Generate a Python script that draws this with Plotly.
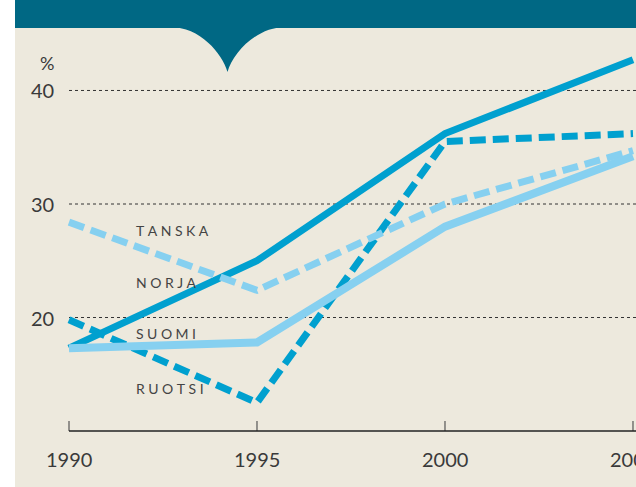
import plotly.graph_objects as go

W, H = 636, 487

years = [1990, 1995, 2000, 2005]
tanska = [28.4, 22.4, 30.0, 34.7]
norja = [17.3, 25.0, 36.2, 42.7]
suomi = [17.3, 17.8, 28.0, 34.2]
ruotsi = [19.8, 12.5, 35.5, 36.2]
y_ticks = [20, 30, 40]
series_labels = ["TANSKA", "NORJA", "SUOMI", "RUOTSI"]

DARK = "#00a0cf"
LIGHT = "#86d0f0"
BEIGE = "#ede9dd"
TEAL = "#006884"
TXT = "#3a3a3a"
FONT = "Lato"


def px(x, y):
  '''pixel -> paper coords'''
  return x / W, 1 - y / H


def spaced(s):
  return "\u2005".join(s)


fig = go.Figure()

fig.add_trace(go.Scatter(x=years, y=norja, mode="lines", line=dict(color=DARK, width=7)))
fig.add_trace(go.Scatter(x=years, y=ruotsi, mode="lines", line=dict(color=DARK, width=7, dash="16px,7px")))
fig.add_trace(go.Scatter(x=years, y=tanska, mode="lines", line=dict(color=LIGHT, width=7, dash="16px,7px")))
fig.add_trace(go.Scatter(x=years, y=suomi, mode="lines", line=dict(color=LIGHT, width=8)))

shapes = []
# white strip on the left
x0, y0 = px(0, 0)
x1, y1 = px(15, H)
shapes.append(dict(type="rect", xref="paper", yref="paper", x0=x0, y0=y1, x1=x1, y1=y0,
                   fillcolor="white", line=dict(width=0), layer="below"))
# teal header band
x0, y0 = px(15, 0)
x1, y1 = px(W, 28)
shapes.append(dict(type="rect", xref="paper", yref="paper", x0=x0, y0=y1, x1=x1, y1=y0,
                   fillcolor=TEAL, line=dict(width=0), layer="above"))
# notch under the band
pts = [(170, 27), (200, 27), (222, 53), (227.5, 72), (233, 53), (256, 27), (286, 27)]
p = [px(a, b) for a, b in pts]
path = "M {0},{1} C {2},{3} {4},{5} {6},{7} C {8},{9} {10},{11} {12},{13} Z".format(
  *[v for xy in p for v in xy])
shapes.append(dict(type="path", xref="paper", yref="paper", path=path,
                   fillcolor=TEAL, line=dict(width=0), layer="above"))

# dotted gridlines
for t in y_ticks:
  shapes.append(dict(type="line", xref="x", yref="y", x0=1990, x1=2006, y0=t, y1=t,
                     line=dict(color="#333333", width=1, dash="dot"), layer="below"))
# x axis line and ticks
shapes.append(dict(type="line", xref="x", yref="y", x0=1990, x1=2006, y0=10, y1=10,
                   line=dict(color="#222222", width=1.5), layer="below"))
for yr in years:
  shapes.append(dict(type="line", xref="x", yref="paper", x0=yr, x1=yr,
                     y0=px(0, 431)[1], y1=px(0, 421)[1],
                     line=dict(color="#555555", width=1.2), layer="below"))

annotations = []
for t in y_ticks:
  annotations.append(dict(x=px(56, 0)[0], xref="paper", y=t, yref="y", text=str(t),
                          xanchor="right", yanchor="middle", showarrow=False,
                          font=dict(family=FONT, size=20, color=TXT)))
annotations.append(dict(x=px(47, 0)[0], y=px(0, 63)[1], xref="paper", yref="paper", text="%",
                        xanchor="center", yanchor="middle", showarrow=False,
                        font=dict(family=FONT, size=18, color=TXT)))
for yr in years:
  annotations.append(dict(x=yr, xref="x", y=px(0, 459)[1], yref="paper", text=str(yr),
                          xanchor="center", yanchor="middle", showarrow=False,
                          font=dict(family=FONT, size=20, color=TXT)))
for lab, ypx in zip(series_labels, [230, 282, 333, 388]):
  xx, yy = px(134, ypx)
  annotations.append(dict(x=xx, y=yy, xref="paper", yref="paper", text=spaced(lab),
                          xanchor="left", yanchor="middle", showarrow=False,
                          font=dict(family=FONT, size=14, color="#444444")))

fig.update_layout(
  width=W, height=H,
  margin=dict(l=0, r=0, t=0, b=0),
  paper_bgcolor=BEIGE, plot_bgcolor=BEIGE,
  showlegend=False,
  shapes=shapes, annotations=annotations,
)
fig.update_xaxes(range=[1988.165, 2005.08], visible=False, fixedrange=True)
fig.update_yaxes(range=[5.07, 47.97], visible=False, fixedrange=True)

fig.write_html("out.html", config={"displayModeBar": False},
               post_script="document.body.style.margin='0';")
